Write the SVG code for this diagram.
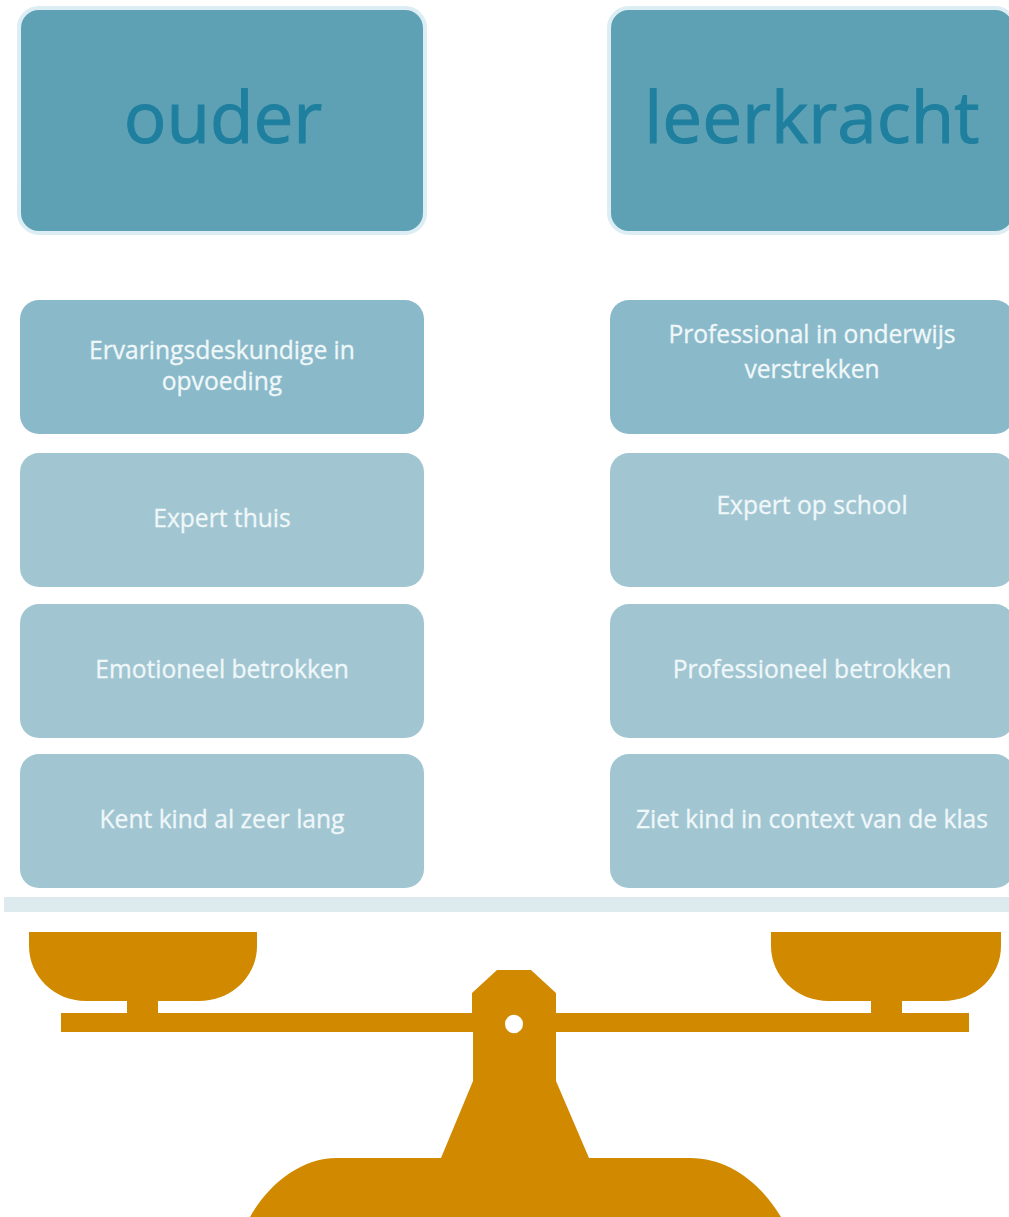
<svg xmlns="http://www.w3.org/2000/svg" width="1009" height="1217" viewBox="0 0 1009 1217">
<style>
text{font-family:"Open Sans","Noto Sans","Liberation Sans",sans-serif;text-anchor:middle}
.h{fill:#5fa1b4;stroke:#dcedf4;stroke-width:4}
.ht{fill:#1f7f9f;stroke:#1f7f9f;stroke-width:1;font-size:71px}
.a{fill:#8abaca}
.b{fill:#a1c6d2}
.t{fill:#f0f7f9;stroke:#f0f7f9;stroke-width:.3;font-size:24.6px}
.g{fill:#d18a00}
</style>
<rect width="1009" height="1217" fill="#fff"/>
<g id="header-ouder"><rect class="h" x="19" y="8" width="406" height="225" rx="20"/><text class="ht" x="223" y="143">ouder</text></g>
<g id="header-leerkracht"><rect class="h" x="609" y="8" width="406" height="225" rx="20"/><text class="ht" x="812" y="143">leerkracht</text></g>
<g id="ouder-1"><rect class="a" x="20" y="300" width="404" height="134" rx="19"/><text class="t" x="222" y="359">Ervaringsdeskundige in</text><text class="t" x="222" y="390">opvoeding</text></g>
<g id="ouder-2"><rect class="b" x="20" y="453" width="404" height="134" rx="19"/><text class="t" x="222" y="527">Expert thuis</text></g>
<g id="ouder-3"><rect class="b" x="20" y="604" width="404" height="134" rx="19"/><text class="t" x="222" y="678">Emotioneel betrokken</text></g>
<g id="ouder-4"><rect class="b" x="20" y="754" width="404" height="134" rx="19"/><text class="t" x="222" y="828">Kent kind al zeer lang</text></g>
<g id="leerkracht-1"><rect class="a" x="610" y="300" width="404" height="134" rx="19"/><text class="t" x="812" y="343">Professional in onderwijs</text><text class="t" x="812" y="378">verstrekken</text></g>
<g id="leerkracht-2"><rect class="b" x="610" y="453" width="404" height="134" rx="19"/><text class="t" x="812" y="514">Expert op school</text></g>
<g id="leerkracht-3"><rect class="b" x="610" y="604" width="404" height="134" rx="19"/><text class="t" x="812" y="678">Professioneel betrokken</text></g>
<g id="leerkracht-4"><rect class="b" x="610" y="754" width="404" height="134" rx="19"/><text class="t" x="812" y="828">Ziet kind in context van de klas</text></g>
<rect id="shelf" x="4" y="897" width="1005" height="15" fill="#deebee"/>
<g id="scale">
<path class="g" d="M29 932H257V946C257 976 232 1001 199 1001H158V1013H472V993L497 970H531L556 993V1013H871V1001H829C796 1001 771 976 771 946V932H1001V946C1001 976 976 1001 943 1001H902V1013H969V1032H556V1081L589 1158H690C730 1158 762 1185 781 1217H250C268 1185 300 1158 337 1158H441L473 1081V1032H61V1013H127V1001H86C54 1001 29 976 29 946Z"/>
<ellipse cx="514" cy="1024" rx="9" ry="9.3" fill="#fff"/>
</g>
</svg>
